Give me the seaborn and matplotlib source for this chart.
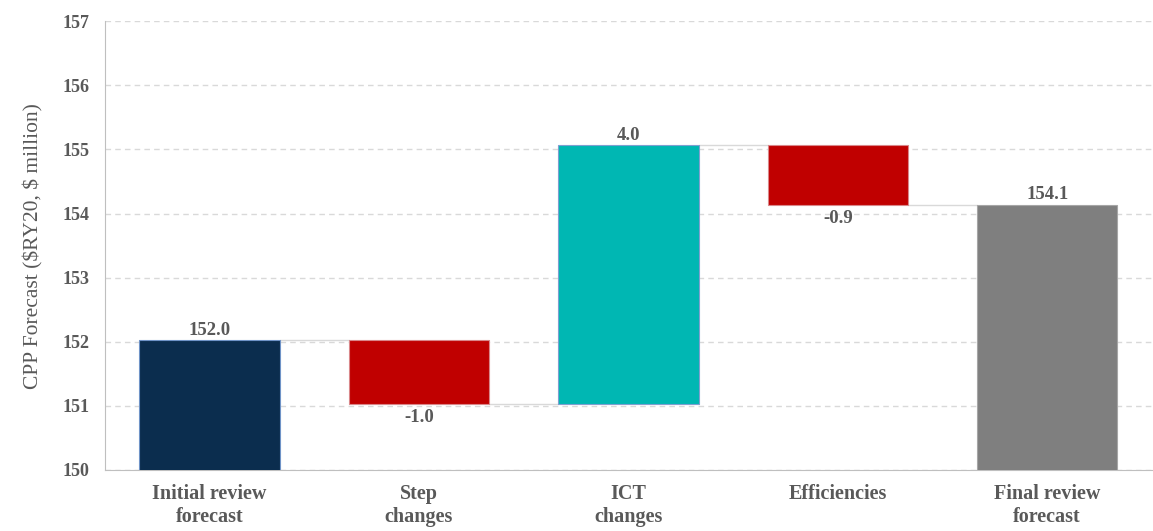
import numpy as np
import pandas as pd
import matplotlib
matplotlib.use('Agg')
import matplotlib.pyplot as plt
import seaborn as sns

categories = ['Initial review\nforecast', 'Step\nchanges', 'ICT\nchanges', 'Efficiencies', 'Final review\nforecast']
start_value = 152.02
changes = [-0.99, 4.04, -0.93]
bar_colors = ['#0B2D4E', '#C00000', '#00B7B3', '#C00000', '#7F7F7F']
edge_colors = ['#6F93C7', '#D9878A', '#7F9FD0', '#D9878A', '#A6A6A6']

# waterfall levels
levels = np.concatenate([[start_value], start_value + np.cumsum(changes)])
final_value = levels[-1]
heights = [start_value] + [abs(c) for c in changes] + [final_value]
bottoms = [0] + [min(levels[i], levels[i + 1]) for i in range(len(changes))] + [0]
labels = [start_value] + changes + [final_value]

df = pd.DataFrame({'cat': categories, 'height': heights})

sns.set_style('white')
plt.rcParams['font.family'] = ['Liberation Serif', 'DejaVu Serif']
txt = '#595959'

fig, ax = plt.subplots(figsize=(11.53, 5.31), dpi=100)
fig.subplots_adjust(left=0.091, right=0.999, top=0.960, bottom=0.115)

sns.barplot(data=df, x='cat', y='height', order=categories, color='#7F7F7F',
            width=0.67, bottom=bottoms, saturation=1, ax=ax, zorder=3, linewidth=0.8)
for p, fc, ec in zip(ax.patches, bar_colors, edge_colors):
    p.set_facecolor(fc)
    p.set_edgecolor(ec)

ax.set_ylim(150, 157)
ax.set_xlim(-0.5, 4.5)
ax.set_yticks(range(150, 158))
ax.yaxis.grid(True, color='#D9D9D9', linestyle=(0, (4, 3)), linewidth=1, zorder=0)
ax.set_axisbelow(True)

# connector lines
w = 0.67 / 2
for i in range(len(levels)):
    ax.plot([i + w, i + 1 - w], [levels[i], levels[i]], color='#D9D9D9', lw=1, zorder=2)

# value labels
for i, v in enumerate(labels):
    if 0 < i < len(labels) - 1 and v < 0:
        ax.annotate(f'{v:.1f}', (i, bottoms[i]), xytext=(0, -4), textcoords='offset points',
                    ha='center', va='top', fontsize=13.5, fontweight='bold', color=txt, zorder=5)
    else:
        ax.annotate(f'{v:.1f}', (i, bottoms[i] + heights[i]), xytext=(0, 1), textcoords='offset points',
                    ha='center', va='bottom', fontsize=13.5, fontweight='bold', color=txt, zorder=5)

for s in ['top', 'right']:
    ax.spines[s].set_visible(False)
ax.spines['left'].set_color('#BFBFBF')
ax.spines['bottom'].set_color('#BFBFBF')

ax.set_xlabel('')
ax.set_ylabel('CPP Forecast (\\$RY20, \\$ million)', fontsize=15.5, color=txt, labelpad=14)
ax.tick_params(axis='y', length=0, pad=11, labelsize=13, labelcolor=txt)
ax.tick_params(axis='x', which='major', length=0, pad=10, labelsize=14.5, labelcolor=txt)
ax.set_xticks(np.arange(-0.5, 5, 1), minor=True)
ax.tick_params(axis='x', which='minor', length=4, color='#BFBFBF')
for t in ax.get_xticklabels() + ax.get_yticklabels():
    t.set_fontweight('bold')

fig.savefig('out.png', dpi=100)
